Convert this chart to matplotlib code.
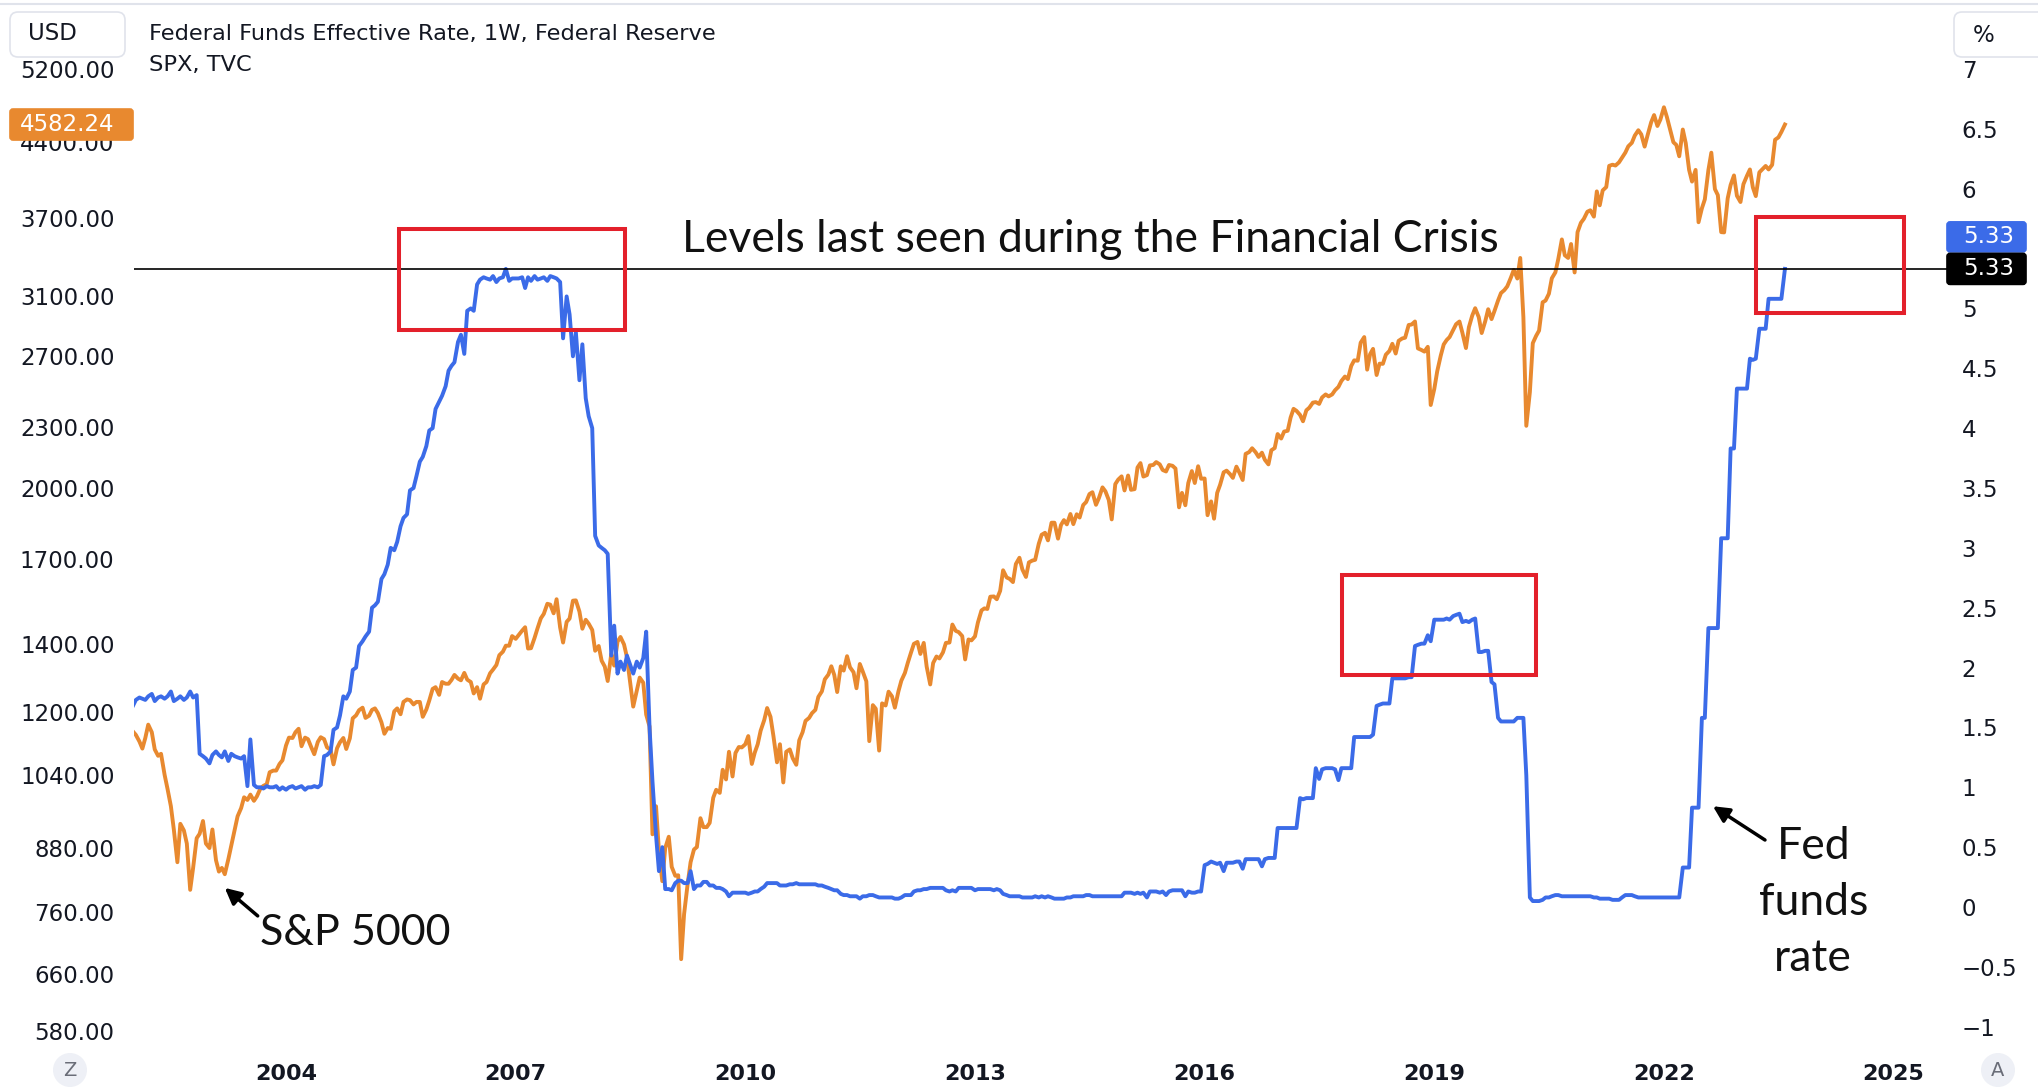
import matplotlib
matplotlib.use("Agg")
import matplotlib.pyplot as plt
from matplotlib.patches import FancyBboxPatch, Rectangle, Circle
from matplotlib.lines import Line2D
from matplotlib.transforms import IdentityTransform
from matplotlib.ticker import NullLocator
import pandas as pd

W, H = 2038, 1088

spx_2002 = [1148, 1139, 1122, 1104, 1131, 1166, 1146, 1102, 1086, 1091, 1040, 1007,
            968, 918, 852, 930, 916, 889, 800, 841, 900, 909, 936, 889]
spx_2003 = [880, 918, 856, 834, 841, 829, 858, 885, 917, 946, 964, 988,
            982, 994, 980, 990, 1008, 1014, 1018, 1046, 1050, 1050, 1066, 1075]
spx_2004 = [1112, 1132, 1131, 1146, 1155, 1110, 1132, 1128, 1107, 1090, 1121, 1133,
            1128, 1107, 1101, 1065, 1105, 1120, 1131, 1103, 1130, 1183, 1191, 1205]
spx_2005 = [1212, 1184, 1190, 1206, 1210, 1197, 1172, 1142, 1157, 1155, 1202, 1210,
            1194, 1228, 1235, 1233, 1221, 1228, 1228, 1187, 1207, 1232, 1265, 1270]
spx_2006 = [1248, 1285, 1280, 1280, 1291, 1306, 1295, 1290, 1312, 1292, 1285, 1252,
            1270, 1237, 1278, 1285, 1311, 1322, 1336, 1366, 1377, 1396, 1396, 1427]
spx_2007 = [1418, 1430, 1445, 1456, 1387, 1388, 1421, 1452, 1486, 1501, 1536, 1533,
            1503, 1552, 1455, 1406, 1474, 1485, 1547, 1548, 1509, 1451, 1481, 1468]
spx_2008 = [1447, 1380, 1395, 1349, 1331, 1288, 1370, 1334, 1409, 1424, 1400, 1360,
            1280, 1215, 1260, 1298, 1283, 1193, 1161, 908, 968, 873, 816, 880]
spx_2009 = [903, 843, 826, 827, 683, 757, 811, 852, 877, 882, 942, 923,
            923, 932, 987, 1005, 998, 1052, 1029, 1096, 1036, 1093, 1108, 1107]
spx_2010 = [1115, 1136, 1066, 1094, 1115, 1150, 1178, 1211, 1187, 1136, 1070, 1115,
            1022, 1096, 1102, 1080, 1064, 1125, 1146, 1176, 1184, 1197, 1206, 1242]
spx_2011 = [1258, 1293, 1307, 1332, 1306, 1256, 1332, 1319, 1363, 1329, 1314, 1267,
            1339, 1316, 1287, 1123, 1219, 1209, 1099, 1224, 1218, 1257, 1244, 1212]
spx_2012 = [1258, 1289, 1312, 1343, 1374, 1402, 1408, 1370, 1405, 1331, 1278, 1342,
            1362, 1356, 1375, 1405, 1406, 1465, 1444, 1440, 1427, 1353, 1416, 1413]
spx_2013 = [1426, 1472, 1513, 1520, 1518, 1561, 1562, 1552, 1582, 1658, 1631, 1626,
            1614, 1682, 1706, 1661, 1633, 1688, 1695, 1698, 1761, 1798, 1806, 1775]
spx_2014 = [1848, 1848, 1782, 1838, 1859, 1841, 1885, 1842, 1884, 1870, 1924, 1937,
            1973, 1981, 1925, 1955, 2003, 1985, 1946, 1862, 2018, 2039, 2054, 1989]
spx_2015 = [2058, 1992, 1995, 2096, 2117, 2053, 2060, 2106, 2108, 2122, 2111, 2084,
            2077, 2108, 2104, 2091, 1914, 1978, 1923, 2023, 2079, 2023, 2102, 2043]
spx_2016 = [2044, 1880, 1940, 1865, 1978, 2015, 2073, 2081, 2065, 2047, 2100, 2072,
            2037, 2162, 2171, 2190, 2170, 2147, 2168, 2133, 2111, 2180, 2191, 2262]
spx_2017 = [2239, 2275, 2279, 2349, 2396, 2385, 2363, 2329, 2388, 2402, 2430, 2433,
            2423, 2459, 2476, 2465, 2476, 2500, 2519, 2553, 2579, 2564, 2642, 2676]
spx_2018 = [2674, 2786, 2822, 2620, 2714, 2747, 2588, 2656, 2655, 2711, 2734, 2779,
            2718, 2798, 2813, 2818, 2901, 2904, 2924, 2750, 2740, 2730, 2760, 2417]
spx_2019 = [2507, 2610, 2706, 2775, 2803, 2822, 2868, 2906, 2924, 2850, 2752, 2886,
            2964, 3014, 2953, 2848, 2926, 3007, 2940, 2995, 3067, 3120, 3141, 3168]
spx_2020 = [3231, 3289, 3225, 3380, 2954, 2305, 2489, 2783, 2830, 2864, 3055, 3067,
            3115, 3227, 3271, 3373, 3526, 3401, 3380, 3489, 3270, 3585, 3662, 3695]
spx_2021 = [3756, 3768, 3714, 3934, 3811, 3943, 3973, 4170, 4181, 4173, 4204, 4247,
            4298, 4360, 4395, 4468, 4523, 4480, 4357, 4471, 4605, 4682, 4567, 4634]
spx_2022 = [4766, 4662, 4516, 4401, 4374, 4262, 4530, 4392, 4132, 4023, 4132, 3667,
            3785, 3863, 4130, 4297, 3955, 3901, 3585, 3583, 3872, 3992, 4080, 3895]
spx_2023 = [3840, 3999, 4077, 4136, 3970, 3892, 4109, 4137, 4169, 4136, 4180, 4426,
            4450, 4505, 4582.24]

# Federal Funds Effective Rate, % - same dates
fed_2002 = [1.68, 1.73, 1.75, 1.74, 1.73, 1.76, 1.78, 1.72, 1.75, 1.76, 1.74, 1.76,
            1.80, 1.72, 1.74, 1.76, 1.73, 1.75, 1.80, 1.75, 1.77, 1.28, 1.26, 1.24]
fed_2003 = [1.20, 1.27, 1.30, 1.27, 1.25, 1.30, 1.22, 1.28, 1.26, 1.25, 1.24, 1.26,
            1.01, 1.40, 1.02, 1.00, 1.00, 0.99, 1.01, 1.00, 1.00, 1.01, 0.98, 1.00]
fed_2004 = [0.98, 1.00, 1.01, 0.99, 1.00, 1.01, 0.98, 1.00, 1.00, 1.01, 1.00, 1.02,
            1.26, 1.27, 1.30, 1.48, 1.50, 1.60, 1.76, 1.74, 1.80, 1.98, 2.00, 2.18]
fed_2005 = [2.22, 2.26, 2.30, 2.50, 2.52, 2.55, 2.74, 2.78, 2.86, 3.00, 2.98, 3.05,
            3.18, 3.25, 3.28, 3.48, 3.50, 3.60, 3.72, 3.76, 3.85, 3.98, 4.00, 4.16]
fed_2006 = [4.22, 4.27, 4.35, 4.48, 4.52, 4.55, 4.72, 4.78, 4.62, 4.98, 5.00, 4.98,
            5.20, 5.24, 5.26, 5.25, 5.24, 5.27, 5.22, 5.25, 5.26, 5.33, 5.23, 5.25]
fed_2007 = [5.25, 5.25, 5.26, 5.17, 5.26, 5.23, 5.27, 5.24, 5.25, 5.26, 5.23, 5.27,
            5.26, 5.25, 5.22, 4.75, 5.10, 4.95, 4.60, 4.80, 4.40, 4.70, 4.25, 4.10]
fed_2008 = [4.00, 3.10, 3.02, 3.00, 2.98, 2.95, 2.10, 2.35, 1.95, 2.05, 1.98, 2.10,
            2.02, 1.95, 2.05, 2.00, 2.08, 2.30, 1.50, 1.05, 0.60, 0.30, 0.50, 0.15]
fed_2009 = [0.15, 0.14, 0.20, 0.22, 0.22, 0.20, 0.20, 0.30, 0.15, 0.18, 0.18, 0.21,
            0.21, 0.18, 0.18, 0.16, 0.16, 0.15, 0.13, 0.09, 0.12, 0.12, 0.12, 0.12]
fed_2010 = [0.12, 0.11, 0.12, 0.13, 0.13, 0.15, 0.17, 0.20, 0.20, 0.20, 0.20, 0.18,
            0.18, 0.18, 0.19, 0.19, 0.20, 0.19, 0.19, 0.19, 0.19, 0.19, 0.19, 0.18]
fed_2011 = [0.18, 0.17, 0.16, 0.15, 0.14, 0.14, 0.11, 0.10, 0.10, 0.09, 0.09, 0.09,
            0.07, 0.09, 0.09, 0.10, 0.10, 0.09, 0.08, 0.08, 0.08, 0.08, 0.08, 0.07]
fed_2012 = [0.07, 0.08, 0.10, 0.10, 0.10, 0.13, 0.14, 0.14, 0.15, 0.15, 0.16, 0.16,
            0.16, 0.16, 0.16, 0.14, 0.13, 0.14, 0.13, 0.16, 0.16, 0.16, 0.16, 0.16]
fed_2013 = [0.14, 0.15, 0.15, 0.15, 0.15, 0.15, 0.14, 0.15, 0.14, 0.11, 0.10, 0.09,
            0.09, 0.09, 0.09, 0.08, 0.08, 0.08, 0.08, 0.09, 0.08, 0.09, 0.08, 0.09]
fed_2014 = [0.08, 0.07, 0.07, 0.07, 0.07, 0.08, 0.08, 0.09, 0.09, 0.09, 0.09, 0.10,
            0.10, 0.09, 0.09, 0.09, 0.09, 0.09, 0.09, 0.09, 0.09, 0.09, 0.09, 0.12]
fed_2015 = [0.12, 0.12, 0.11, 0.12, 0.11, 0.12, 0.08, 0.13, 0.13, 0.13, 0.12, 0.13,
            0.10, 0.13, 0.14, 0.14, 0.14, 0.14, 0.09, 0.13, 0.12, 0.12, 0.13, 0.13]
fed_2016 = [0.35, 0.36, 0.38, 0.37, 0.36, 0.37, 0.30, 0.37, 0.37, 0.37, 0.38, 0.38,
            0.32, 0.40, 0.40, 0.40, 0.40, 0.40, 0.34, 0.40, 0.41, 0.41, 0.41, 0.66]
fed_2017 = [0.66, 0.66, 0.66, 0.66, 0.66, 0.66, 0.91, 0.90, 0.91, 0.91, 0.91, 1.16,
            1.07, 1.15, 1.16, 1.16, 1.16, 1.15, 1.06, 1.16, 1.16, 1.16, 1.16, 1.42]
fed_2018 = [1.42, 1.42, 1.42, 1.42, 1.42, 1.44, 1.68, 1.69, 1.70, 1.70, 1.70, 1.91,
            1.91, 1.91, 1.91, 1.91, 1.92, 1.92, 2.18, 2.19, 2.20, 2.20, 2.27, 2.22]
fed_2019 = [2.40, 2.40, 2.40, 2.40, 2.41, 2.40, 2.43, 2.44, 2.45, 2.38, 2.39, 2.38,
            2.40, 2.41, 2.13, 2.13, 2.14, 2.14, 1.88, 1.86, 1.58, 1.55, 1.55, 1.55]
fed_2020 = [1.55, 1.55, 1.58, 1.58, 1.58, 1.10, 0.08, 0.05, 0.05, 0.05, 0.06, 0.08,
            0.08, 0.09, 0.10, 0.10, 0.09, 0.09, 0.09, 0.09, 0.09, 0.09, 0.09, 0.09]
fed_2021 = [0.09, 0.09, 0.08, 0.08, 0.07, 0.07, 0.07, 0.07, 0.06, 0.06, 0.06, 0.08,
            0.10, 0.10, 0.10, 0.09, 0.08, 0.08, 0.08, 0.08, 0.08, 0.08, 0.08, 0.08]
fed_2022 = [0.08, 0.08, 0.08, 0.08, 0.08, 0.08, 0.33, 0.33, 0.33, 0.83, 0.83, 0.83,
            1.58, 1.58, 2.33, 2.33, 2.33, 2.33, 3.08, 3.08, 3.08, 3.83, 3.83, 4.33]
fed_2023 = [4.33, 4.33, 4.33, 4.58, 4.57, 4.58, 4.83, 4.83, 4.83, 5.08, 5.08, 5.08,
            5.08, 5.08, 5.33]

spx_ticks = [580, 660, 760, 880, 1040, 1200, 1400, 1700, 2000, 2300, 2700, 3100, 3700, 4400, 5200]
rate_ticks = [-1, -0.5, 0, 0.5, 1, 1.5, 2, 2.5, 3, 3.5, 4, 4.5, 5, 6, 6.5, 7]
year_ticks = [2004, 2007, 2010, 2013, 2016, 2019, 2022, 2025]

spx = (spx_2002 + spx_2003 + spx_2004 + spx_2005 + spx_2006 + spx_2007 + spx_2008
       + spx_2009 + spx_2010 + spx_2011 + spx_2012 + spx_2013 + spx_2014 + spx_2015
       + spx_2016 + spx_2017 + spx_2018 + spx_2019 + spx_2020 + spx_2021 + spx_2022 + spx_2023)
fed = (fed_2002 + fed_2003 + fed_2004 + fed_2005 + fed_2006 + fed_2007 + fed_2008
       + fed_2009 + fed_2010 + fed_2011 + fed_2012 + fed_2013 + fed_2014 + fed_2015
       + fed_2016 + fed_2017 + fed_2018 + fed_2019 + fed_2020 + fed_2021 + fed_2022 + fed_2023)

dates = pd.date_range("2002-01-01", periods=len(spx), freq="SMS")
years = dates.year + (dates.dayofyear - 1) / (365 + dates.is_leap_year.astype(int))

ORANGE = "#e8892f"
BLUE = "#3b6be8"
RED = "#e3202b"
TXT = "#131722"
ANNO_FONT = ["Lato", "DejaVu Sans"]

fig = plt.figure(figsize=(W / 100, H / 100), dpi=100)
fig.patch.set_facecolor("white")

# plot pane in image pixels
L, R, T, B = 134, 1950, 5, 1050
ax = fig.add_axes([L / W, 1 - B / H, (R - L) / W, (B - T) / H])
ax2 = ax.twinx()

ax.set_yscale("log")
ax.set_xlim(2002.014, 2025.737)
ax.set_ylim(555.2, 6018)
ax2.set_ylim(-1.194, 7.534)

ax.plot(years, spx, color=ORANGE, lw=2.8, solid_joinstyle="round")
ax2.plot(years, fed, color=BLUE, lw=2.8, solid_joinstyle="round")

ax.set_yticks(spx_ticks)
ax.set_yticklabels([f"{v:.2f}" for v in spx_ticks])
ax.yaxis.set_minor_locator(NullLocator())
ax.tick_params(axis="y", length=0, pad=14, labelsize=16.5, labelcolor=TXT)

ax2.set_yticks(rate_ticks)
ax2.set_yticklabels([f"{v:g}".replace("-", "\u2212") for v in rate_ticks])
ax2.tick_params(axis="y", length=0, pad=8.5, labelsize=16.5, labelcolor=TXT)

ax.set_xticks(year_ticks)
ax.set_xticklabels([str(y) for y in year_ticks], fontweight="bold")
ax.tick_params(axis="x", length=0, pad=10, labelsize=16, labelcolor=TXT)

for a in (ax, ax2):
    for s in a.spines.values():
        s.set_visible(False)

# annotations drawn on the chart
ax2.axhline(fed[-1], color="black", lw=1.2, zorder=3)
for x0, x1, y0, y1 in [(2005.476, 2008.428, 4.818, 5.665),
                       (2017.80, 2020.33, 1.942, 2.777),
                       (2023.20, 2025.13, 4.96, 5.763)]:
    ax2.add_patch(Rectangle((x0, y0), x1 - x0, y1 - y0, fill=False, ec=RED, lw=2.9, zorder=4))

ax2.text(2009.17, 5.47, "Levels last seen during the Financial Crisis", fontsize=32,
         family=ANNO_FONT, color="#111111", ha="left", va="baseline")
ax2.text(2003.66, -0.217, "S&P 5000", fontsize=31, family=ANNO_FONT, color="#111111",
         ha="left", va="center")
ax2.annotate("", xy=(2003.20, 0.16), xytext=(2003.63, -0.074),
             arrowprops=dict(arrowstyle="-|>", color="black", lw=2.5, mutation_scale=24,
                             shrinkA=0, shrinkB=0))
ax2.text(2023.95, 0.04, "Fed\nfunds\nrate", fontsize=32, family=ANNO_FONT, color="#111111",
         ha="center", va="center", multialignment="center", linespacing=1.46)
ax2.annotate("", xy=(2022.64, 0.842), xytext=(2023.32, 0.56),
             arrowprops=dict(arrowstyle="-|>", color="black", lw=2.5, mutation_scale=24,
                             shrinkA=0, shrinkB=0))


# chrome around the pane, in image pixels (origin top-left)
def px_box(x0, y0, x1, y1, fc, ec, r=5):
    fig.add_artist(FancyBboxPatch((x0, H - y1), x1 - x0, y1 - y0,
                                  boxstyle=f"round,pad=0,rounding_size={r}",
                                  fc=fc, ec=ec, lw=1.2, transform=IdentityTransform(), zorder=5))


def px_text(x, y, s, **kw):
    fig.text(x / W, 1 - y / H, s, zorder=6, va="center", **kw)


fig.add_artist(Line2D([0, W], [H - 4, H - 4], color="#e0e3eb", lw=1.5,
                      transform=IdentityTransform(), zorder=5))

px_box(10, 12, 125, 57, "white", "#e0e3eb", r=8)
px_text(28, 34, "USD", fontsize=16.5, color=TXT)
px_box(1954, 12, 2060, 57, "white", "#e0e3eb", r=8)
px_text(1973, 35, "%", fontsize=16.5, color=TXT)

px_text(149, 34, "Federal Funds Effective Rate, 1W, Federal Reserve", fontsize=16.2, color=TXT)
px_text(149, 65, "SPX, TVC", fontsize=16.2, color=TXT)

y_spx = H - ax.transData.transform((2010, spx[-1]))[1]
px_box(10, y_spx - 15.5, 133, y_spx + 15.5, ORANGE, ORANGE, r=3)
px_text(20, y_spx, f"{spx[-1]:.2f}", fontsize=16.5, color="white")

y_rate = H - ax2.transData.transform((2010, fed[-1]))[1]
px_box(1947, y_rate - 47, 2026, y_rate - 17, BLUE, BLUE, r=3)
px_text(1963, y_rate - 32, f"{fed[-1]:.2f}", fontsize=16.5, color="white")
px_box(1947, y_rate - 15.5, 2026, y_rate + 15.5, "black", "black", r=3)
px_text(1963, y_rate, f"{fed[-1]:.2f}", fontsize=16.5, color="white")

for cx, letter in [(70, "Z"), (1998, "A")]:
    fig.add_artist(Circle((cx, H - 1070), 17, fc="#eef0f6", ec="none",
                          transform=IdentityTransform(), zorder=5))
    fig.text(cx / W, 1 - 1070 / H, letter, fontsize=14, color="#6a6d78",
             ha="center", va="center", zorder=6)

fig.savefig("out.png", dpi=100, facecolor="white")
